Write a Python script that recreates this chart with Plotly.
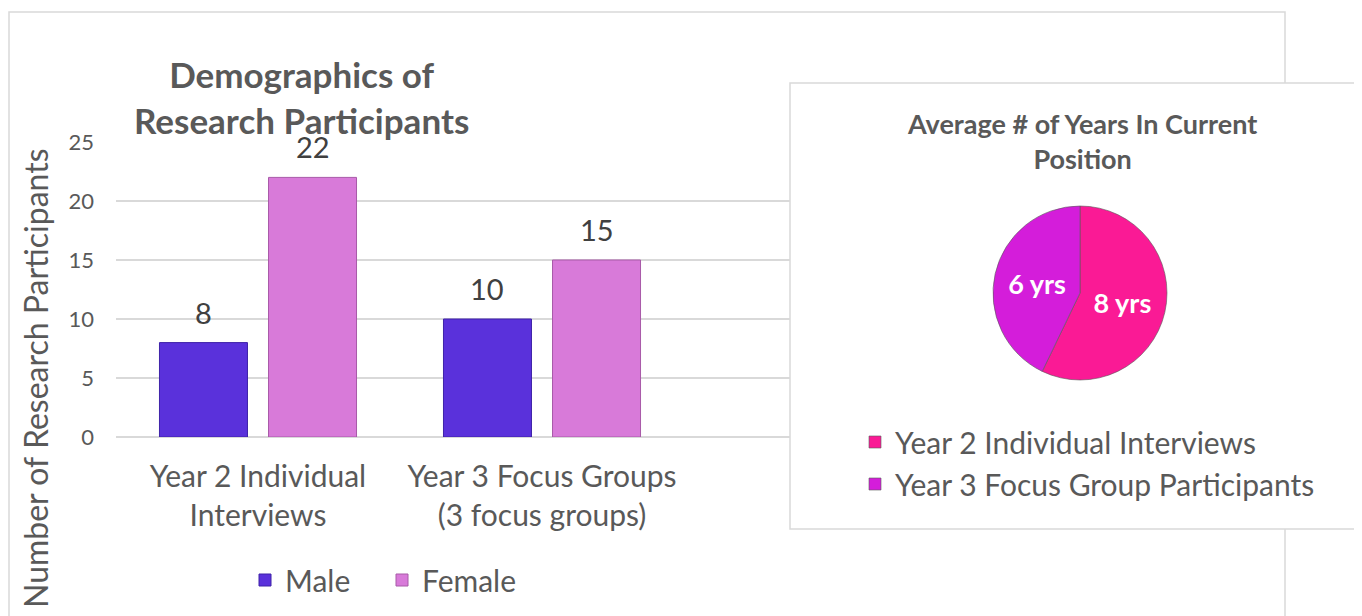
import plotly.graph_objects as go

# ---- data ----
categories = ["Year 2 Individual<br>Interviews", "Year 3 Focus Groups<br>(3 focus groups)"]
male = [8, 10]
female = [22, 15]
series_names = ["Male", "Female"]

pie_labels = ["Year 2 Individual Interviews", "Year 3 Focus Group Participants"]
pie_values = [8, 6]

y_ticks = [0, 5, 10, 15, 20, 25]

# ---- page geometry (the page body has an 8px margin) ----
OFF = 8
W, H = 1362 - OFF, 616 - OFF

FONT = "Lato"
TXT = "#595959"


def px_x(x):
    return (x - OFF) / W


def px_y(y):
    return 1 - (y - OFF) / H


x_left, x_right = 116, 790       # bar plot area (px)
cat_px = 284.0                   # category spacing (px)
span = (x_right - x_left) / cat_px
BARGAP, BARGROUPGAP = 0.232, 0.193
slot_px = cat_px * (1 - BARGAP) / 2

fig = go.Figure()

series = [(series_names[0], male, "#5A31DB", "#3E22A8"),
          (series_names[1], female, "#D87AD9", "#A85AA8")]
for name, vals, col, edge in series:
    fig.add_trace(go.Bar(
        x=categories, y=vals, name=name,
        marker=dict(color=col, line=dict(color=edge, width=1)),
        legend="legend", hoverinfo="x+y+name",
    ))

fig.add_trace(go.Pie(
    labels=pie_labels, values=pie_values,
    sort=False, direction="clockwise", rotation=0,
    marker=dict(colors=["#FA1A95", "#D41DDA"], line=dict(color="rgba(90,90,90,0.6)", width=1)),
    texttemplate="<b>%{value} yrs</b>", textposition="inside",
    insidetextorientation="horizontal",
    textfont=dict(size=27, color="white", family=FONT),
    domain=dict(x=[px_x(1080 - 87), px_x(1080 + 87)], y=[px_y(293 + 87), px_y(293 - 87)]),
    legend="legend2", hoverinfo="label+value",
))

# value labels above bars
annotations = []
for k, (name, vals, col, edge) in enumerate(series):
    shift = (k - 0.5) * slot_px
    for cat, v in zip(categories, vals):
        annotations.append(dict(
            x=cat, y=v, xref="x", yref="y", text=str(v), showarrow=False,
            xanchor="center", yanchor="bottom", xshift=shift, yshift=11,
            font=dict(size=29, color="#404040", family=FONT)))

annotations += [
    dict(text="<b>Demographics of<br>Research Participants</b>", xref="paper", yref="paper",
         x=px_x(301), y=px_y(97), xanchor="center", yanchor="middle", showarrow=False,
         font=dict(size=35, color=TXT, family=FONT)),
    dict(text="Number of Research Participants", xref="paper", yref="paper",
         x=px_x(35), y=px_y(378), xanchor="center", yanchor="middle", showarrow=False,
         textangle=-90, font=dict(size=32, color=TXT, family=FONT)),
    dict(text="<b>Average # of Years In Current<br>Position</b>", xref="paper", yref="paper",
         x=px_x(1082), y=px_y(141), xanchor="center", yanchor="middle", showarrow=False,
         font=dict(size=27, color=TXT, family=FONT)),
]

fig.update_layout(
    width=W, height=H,
    margin=dict(l=0, r=0, t=0, b=0, autoexpand=False),
    paper_bgcolor="white", plot_bgcolor="rgba(0,0,0,0)",
    font=dict(family=FONT, color=TXT),
    barmode="group", bargap=BARGAP, bargroupgap=BARGROUPGAP,
    xaxis=dict(
        domain=[px_x(x_left), px_x(x_right)],
        range=[-0.5, -0.5 + span],
        type="category", automargin=False,
        showgrid=False, showline=False, zeroline=False,
        tickfont=dict(size=30, color=TXT, family=FONT),
        ticks="", ticklabelstandoff=19,
    ),
    yaxis=dict(
        domain=[px_y(437), px_y(142)],
        range=[0, 25], tickvals=y_ticks, automargin=False,
        showgrid=True, gridcolor="#D9D9D9", gridwidth=1.5,
        zeroline=True, zerolinecolor="#D9D9D9", zerolinewidth=1.5,
        showline=False,
        tickfont=dict(size=22, color=TXT, family=FONT),
        ticks="", ticklabelstandoff=21,
    ),
    showlegend=True,
    legend=dict(
        orientation="h", x=px_x(245), xanchor="left", y=px_y(580), yanchor="middle",
        font=dict(size=30, color=TXT, family=FONT),
        bgcolor="rgba(0,0,0,0)", entrywidth=92, itemclick=False,
    ),
    legend2=dict(
        orientation="v", x=px_x(855), xanchor="left", y=px_y(463), yanchor="middle",
        font=dict(size=30, color=TXT, family=FONT),
        bgcolor="rgba(0,0,0,0)", itemclick=False,
    ),
    shapes=[
        dict(type="rect", xref="paper", yref="paper",
             x0=px_x(9), x1=px_x(1285), y0=px_y(640), y1=px_y(12),
             line=dict(color="#D9D9D9", width=1.5), fillcolor="rgba(0,0,0,0)", layer="below"),
        dict(type="rect", xref="paper", yref="paper",
             x0=px_x(790), x1=px_x(1380), y0=px_y(529), y1=px_y(83),
             line=dict(color="#D9D9D9", width=1.5), fillcolor="white", layer="below"),
    ],
    annotations=annotations,
)

fig.write_html("out.html")
